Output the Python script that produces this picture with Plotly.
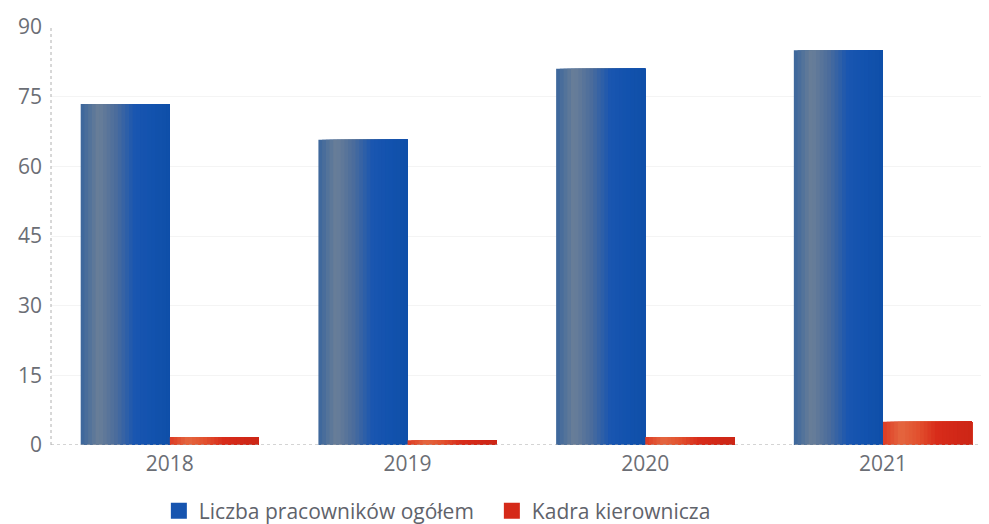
import plotly.graph_objects as go

years = ['2018', '2019', '2020', '2021']
total_staff = [73.4, 65.7, 81, 85]
management = [1.7, 1, 1.7, 5]

series_names = ['Liczba pracowników ogółem', 'Kadra kierownicza']

# colour stops across the width of each bar (left -> right), imitating the shaded look
blue_stops = ['#3a659c', '#6a7f98', '#4a6c9c', '#1a56b0', '#1252ae', '#0f4fa8']
red_stops = ['#dd3a24', '#e4663f', '#e2502e', '#d82c1a', '#d22818', '#cc2616']

N_SLICES = 24
BAR_W = 0.375


def hex_to_rgb(h):
    h = h.lstrip('#')
    return tuple(int(h[i:i + 2], 16) for i in (0, 2, 4))


def color_at(stops, t):
    pos = t * (len(stops) - 1)
    i = min(int(pos), len(stops) - 2)
    f = pos - i
    a, b = hex_to_rgb(stops[i]), hex_to_rgb(stops[i + 1])
    c = [round(a[k] + (b[k] - a[k]) * f) for k in range(3)]
    return 'rgb({},{},{})'.format(*c)


fig = go.Figure()


def add_shaded_bar(fig, values, name, stops, start):
    w = BAR_W / N_SLICES
    for s in range(N_SLICES):
        col = color_at(stops, (s + 0.5) / N_SLICES)
        # each slice runs to the right edge, so the next one just paints over it (no seams)
        fig.add_trace(go.Bar(x=years, y=values, name=name,
                             offset=start + s * w, width=BAR_W - s * w,
                             marker=dict(color=col, line=dict(width=0)),
                             showlegend=False, hoverinfo='skip'))
    # legend entry only
    fig.add_trace(go.Scatter(x=[None], y=[None], name=name, mode='markers',
                             marker=dict(symbol='square', size=17,
                                         color=color_at(stops, 0.7)),
                             showlegend=True))


add_shaded_bar(fig, total_staff, series_names[0], blue_stops, -BAR_W)
add_shaded_bar(fig, management, series_names[1], red_stops, 0)

# the page body has an 8px margin, so margins are shifted to compensate
fig.update_layout(
    barmode='overlay',
    width=989, height=524,
    margin=dict(l=43, r=8, t=19, b=87, autoexpand=False),
    paper_bgcolor='white', plot_bgcolor='white',
    font=dict(family='Open Sans', color='#6b6e75', size=21),
    legend=dict(orientation='h', x=0.47, xanchor='center',
                yref='container', y=0.04, yanchor='middle',
                font=dict(size=21, color='#5f636b'), itemwidth=30,
                entrywidth=288, traceorder='normal'),
)

fig.update_xaxes(type='category', range=[-0.5, 3.446], showgrid=False,
                 showline=False, zeroline=False, ticks='', ticklabelstandoff=4,
                 automargin=False)
fig.update_yaxes(range=[0, 90], tickvals=[0, 15, 30, 45, 60, 75, 90],
                 showgrid=True, gridcolor='#f4f4f4', gridwidth=1,
                 showline=False, zeroline=False,
                 ticks='', ticklabelstandoff=8, automargin=False)

# dotted baseline and axis, as in the original
fig.add_hline(y=0, line=dict(color='#a8a8a8', width=1, dash='dot'), layer='above')
fig.add_shape(type='line', xref='paper', yref='paper', x0=0, x1=0, y0=0, y1=1,
              line=dict(color='#b0b0b0', width=1, dash='dot'), layer='above')

fig.write_html("out.html")
